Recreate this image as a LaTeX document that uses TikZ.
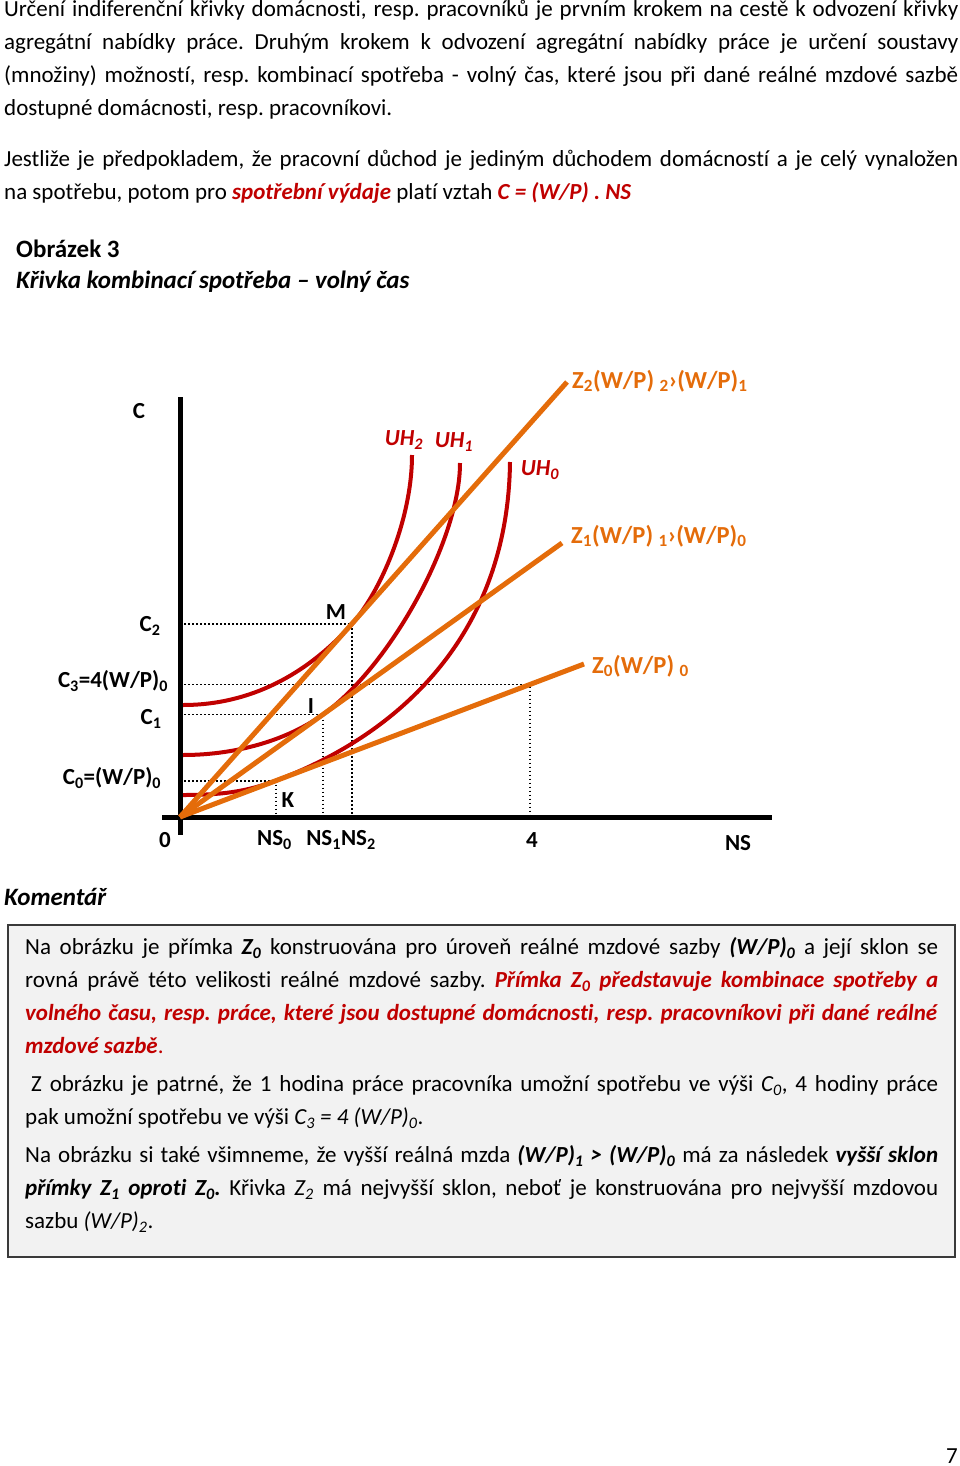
\documentclass[tikz,border=0pt]{standalone}
\usepackage{fontspec}
\setmainfont{Carlito}[Ligatures=NoCommon]
\usepackage{xcolor}
\definecolor{uhred}{HTML}{C00000}
\definecolor{zorange}{HTML}{E46C0A}
\definecolor{boxgray}{HTML}{F2F2F2}
\definecolor{boxline}{HTML}{3A3A3A}
\usetikzlibrary{positioning}
\newcommand{\lo}[1]{\textsubscript{#1}}
\newcommand{\bi}[1]{\textbf{\textit{#1}}}
\newcommand{\hl}[1]{\textcolor{uhred}{\bi{#1}}}
\frenchspacing

\begin{document}
\begin{tikzpicture}[x=1pt,y=-1pt,
  font=\fontsize{23}{33}\selectfont,
  para/.style={anchor=base west,inner sep=0pt,align=justify,text width=#1},
  head/.style={anchor=base west,inner sep=0pt},
  lbl/.style={inner sep=0pt,font=\fontsize{23}{28}\selectfont\bfseries},
  axis/.style={line width=5pt},
  guide/.style={line width=1.8pt,dash pattern=on 1.8pt off 2.2pt},
  uh/.style={uhred,line width=4pt},
  wage/.style={zorange,line width=5pt},
  zlbl/.style={lbl,anchor=west,text=zorange,font=\fontsize{24.5}{28}\selectfont\bfseries},
  uhlbl/.style={lbl,text=uhred,font=\fontsize{23}{28}\selectfont\bfseries\itshape}
]
\useasboundingbox (0,0) rectangle (960,1466);

% uvodni text
\node[para=954pt] (intro) at (4,17) {Určení indiferenční křivky domácnosti, resp. pracovníků je prvním krokem na cestě k odvození křivky\linebreak agregátní nabídky práce. Druhým krokem k odvození agregátní nabídky práce je určení soustavy\linebreak (množiny) možností, resp. kombinací spotřeba - volný čas, které jsou při dané reálné mzdové sazbě\linebreak dostupné domácnosti, resp. pracovníkovi.};
\node[para=954pt] (premise) at (4,167) {Jestliže je předpokladem, že pracovní důchod je jediným důchodem domácností a je celý vynaložen\linebreak na spotřebu, potom pro \hl{spotřební výdaje} platí vztah \hl{C = (W/P) . NS}};

\node[head,font=\fontsize{25}{30}\selectfont\bfseries] (figno) at (16,257) {Obrázek 3};
\node[head,font=\fontsize{25}{30}\selectfont\bfseries\itshape] (figtitle) at (16,288) {Křivka kombinací spotřeba – volný čas};

% graf
\coordinate (O) at (180,817);
\coordinate (Zend2) at (567,382);
\coordinate (Zend1) at (562,543);
\coordinate (Zend0) at (584,664);
\coordinate (M) at (352,624);
\coordinate (I) at (323,714.5);
\coordinate (K) at (276,780.6);
\coordinate (P4) at (530,684.5);

\draw[axis] (180,397) -- (180,835);
\draw[axis] (162,817) -- (772,817);

\draw[guide] (M -| O) -- (M) -- (M |- O);
\draw[guide] (I -| O) -- (I) -- (I |- O);
\draw[guide] (K -| O) -- (K) -- (K |- O);
\draw[guide] (P4 -| O) -- (P4) -- (P4 |- O);

\draw[uh] (183,705) .. controls (250,705) and (307,674.6) .. (M) .. controls (380,592.5) and (412,520) .. (412,455);
\draw[uh] (183,755) .. controls (240,755) and (290,738.2) .. (I) .. controls (390,666.5) and (460,540) .. (460,463);
\draw[uh] (183,795) .. controls (220,795) and (246,792) .. (K) .. controls (405,732) and (508,630) .. (510,462);

\draw[wage] (O) -- (Zend2);
\draw[wage] (O) -- (Zend1);
\draw[wage] (O) -- (Zend0);

\node[lbl] (lblC) at (139,411) {C};
\node[lbl] (lblzero) at (165,840) {0};
\node[lbl,anchor=west] (lblNSzero) at (257,840) {NS\lo{0}};
\node[lbl] (lblNSonetwo) at (341,840) {NS\lo{1}NS\lo{2}};
\node[lbl] (lblfour) at (532,840) {4};
\node[lbl] (lblNS) at (738,843) {NS};
\node[lbl] (lblCtwo) at (150,626) {C\lo{2}};
\node[lbl] (lblCthree) at (113,681) {C\lo{3}=4(W/P)\lo{0}};
\node[lbl] (lblCone) at (151,719) {C\lo{1}};
\node[lbl] (lblCzero) at (112,778) {C\lo{0}=(W/P)\lo{0}};
\node[lbl] (lblK) at (288,800) {K};
\node[lbl] (lblI) at (311,706) {I};
\node[lbl] (lblM) at (336,612) {M};

\node[zlbl] (lblZtwo) at (572,381) {Z\lo{2}(W/P) \lo{2}›(W/P)\lo{1}};
\node[zlbl] (lblZone) at (571,536) {Z\lo{1}(W/P) \lo{1}›(W/P)\lo{0}};
\node[zlbl] (lblZzero) at (592,666) {Z\lo{0}(W/P) \lo{0}};

\node[uhlbl] (lblUHtwo) at (404,440) {UH\lo{2}};
\node[uhlbl] (lblUHone) at (454,442) {UH\lo{1}};
\node[uhlbl] (lblUHzero) at (540,470) {UH\lo{0}};

% komentar
\node[head,font=\fontsize{25}{30}\selectfont\bfseries\itshape] (koment) at (4,905) {Komentář};
\draw[boxline,line width=2pt,fill=boxgray] (8,925) rectangle (955,1257);

\node[para=913pt] (note1) at (25,954.5) {Na obrázku je přímka \bi{Z\lo{0}} konstruována pro úroveň reálné mzdové sazby \bi{(W/P)\lo{0}} a její sklon se\linebreak rovná právě této velikosti reálné mzdové sazby. \hl{Přímka Z\lo{0} představuje kombinace spotřeby a}\linebreak \hl{volného času, resp. práce, které jsou dostupné domácnosti, resp. pracovníkovi při dané reálné}\linebreak \hl{mzdové sazbě}\textcolor{uhred}{.}};
\node[para=913pt] (note2) at (25,1091.5) {\hspace*{6pt}Z obrázku je patrné, že 1 hodina práce pracovníka umožní spotřebu ve výši \textit{C\lo{0}}, 4 hodiny práce\linebreak pak umožní spotřebu ve výši \textit{C\lo{3} = 4 (W/P)\lo{0}}.};
\node[para=913pt] (note3) at (25,1162.5) {Na obrázku si také všimneme, že vyšší reálná mzda \bi{(W/P)\lo{1} > (W/P)\lo{0}} má za následek \bi{vyšší sklon}\linebreak \bi{přímky Z\lo{1} oproti Z\lo{0}.} Křivka \textit{Z\lo{2}} má nejvyšší sklon, neboť je konstruována pro nejvyšší mzdovou\linebreak sazbu \textit{(W/P)\lo{2}}.};

\node[head,anchor=base east] (pageno) at (958,1463) {7};
\end{tikzpicture}
\end{document}
